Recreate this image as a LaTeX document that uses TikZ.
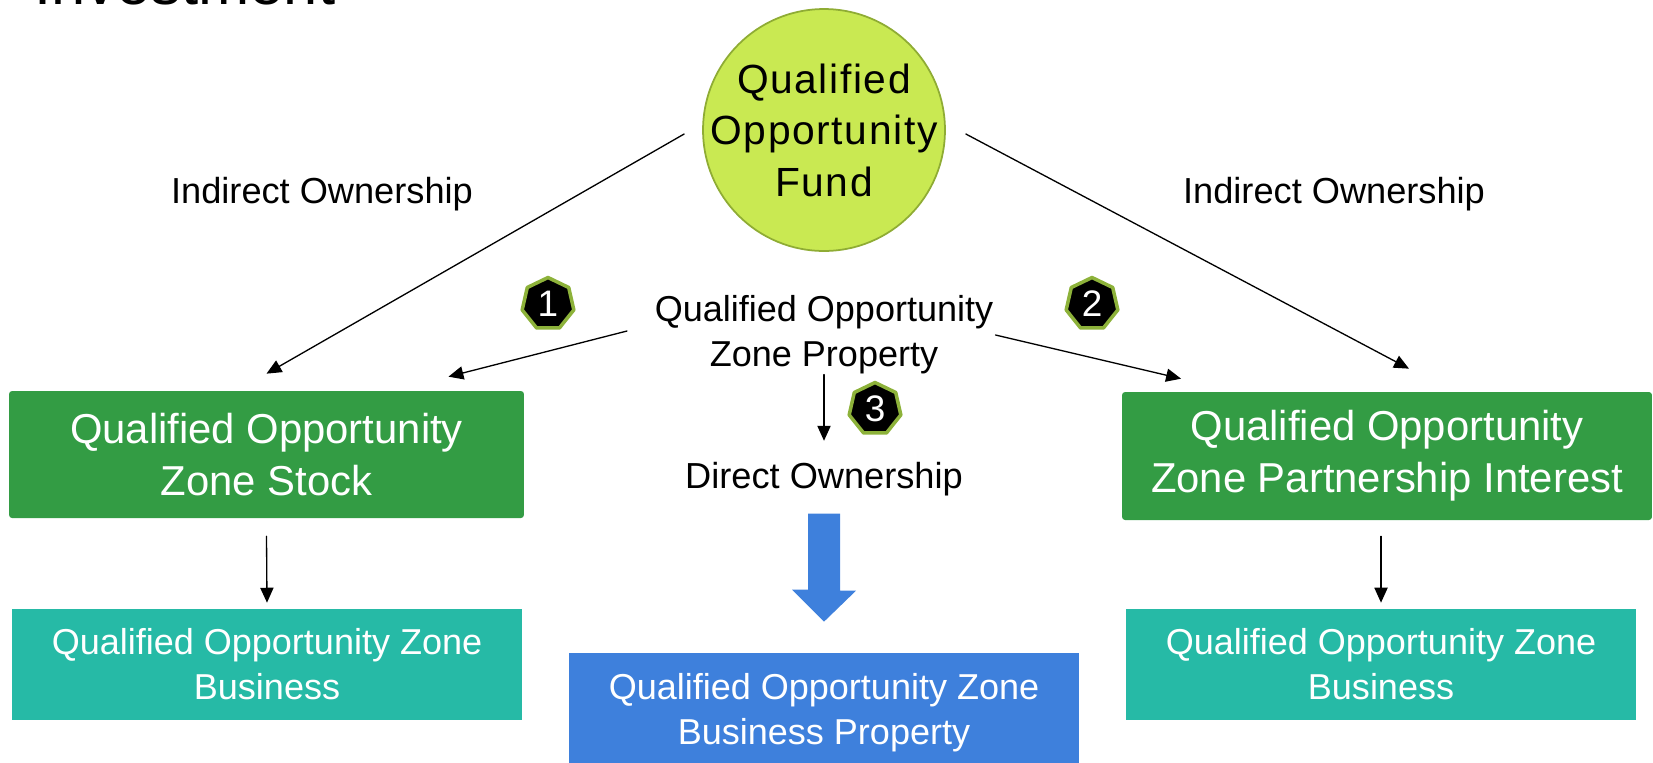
\documentclass[tikz,border=0pt]{standalone}
\usepackage{fontspec}
\setmainfont{Liberation Sans}
\usetikzlibrary{shapes.geometric,arrows.meta}

\definecolor{fundlime}{RGB}{201,233,82}
\definecolor{fundrim}{RGB}{143,172,52}
\definecolor{stockgreen}{RGB}{51,156,68}
\definecolor{bizteal}{RGB}{38,186,166}
\definecolor{propblue}{RGB}{62,128,220}
\definecolor{badgerim}{RGB}{141,178,58}

\begin{document}
\begin{tikzpicture}[line cap=round, line join=round, >={Triangle[length=8.5pt,width=7.5pt]}]

	% Hệ toạ độ theo điểm ảnh (gốc ở góc trên trái, trục y hướng xuống)
	\tikzset{
		px/.style={x=0.02cm, y=-0.02cm},
		conn/.style={->, line width=0.75pt},
		fundnode/.style={circle, draw=fundrim, line width=1pt, fill=fundlime,
			minimum size=4.84cm, inner sep=-0.4cm, align=center,
			font=\fontsize{23.2}{29.3}\selectfont\addfontfeature{LetterSpace=4}},
		lbl/.style={inner sep=0pt, align=center, font=\fontsize{20.6}{25.6}\selectfont},
		badge/.style={regular polygon, regular polygon sides=7, fill=black,
			draw=badgerim, line width=2pt, minimum size=1.06cm, inner sep=0pt,
			text=white, font=\fontsize{21}{21}\selectfont},
		bigbox/.style={fill=stockgreen, rounded corners=0.06cm, inner sep=0pt,
			text=white, align=center, font=\fontsize{23.8}{29.6}\selectfont},
		smallbox/.style={inner sep=0pt, text=white, align=center,
			minimum width=10.2cm, font=\fontsize{20.5}{25.6}\selectfont}
	}

	\begin{scope}[px]
		\useasboundingbox (0,0) rectangle (1653,762);

		% Tiêu đề (bị cắt ở mép trên)
		\node[anchor=base west, inner sep=0pt, font=\fontsize{35}{35}\selectfont] (title) at (34,4) {Investment};

		% ----------------------------------------------------
		% Quỹ ở trên cùng và các nhãn
		% ----------------------------------------------------
		\node[fundnode] (fund) at (824,130) {Qualified\\Opportunity\\Fund};

		\node[lbl] (indl) at (322,194) {Indirect Ownership};
		\node[lbl] (indr) at (1334,194) {Indirect Ownership};
		\node[lbl, font=\fontsize{20.5}{25.6}\selectfont] (qozp) at (824,335) {Qualified Opportunity\\Zone Property};
		\node[lbl] (direct) at (824,479) {Direct Ownership};

		% Các huy hiệu đánh số
		\node[badge] (b1) at (548,304) {1};
		\node[badge] (b2) at (1092,304) {2};
		\node[badge] (b3) at (875,409) {3};

		% ----------------------------------------------------
		% Các hộp
		% ----------------------------------------------------
		\node[bigbox, minimum width=10.3cm, minimum height=2.54cm] (stock) at (266.5,454.5) {Qualified Opportunity\\Zone Stock};
		\node[bigbox, minimum width=10.6cm, minimum height=2.56cm] (partner) at (1387,456) {Qualified Opportunity\\Zone Partnership Interest};

		\node[smallbox, fill=bizteal, minimum height=2.22cm] (bizl) at (267,664.5) {Qualified Opportunity Zone\\Business};
		\node[smallbox, fill=bizteal, minimum height=2.22cm] (bizr) at (1381,664.5) {Qualified Opportunity Zone\\Business};
		\node[smallbox, fill=propblue, minimum height=2.4cm] (prop) at (824,713) {Qualified Opportunity Zone\\Business Property};

		% ----------------------------------------------------
		% Mũi tên
		% ----------------------------------------------------
		\draw[conn] ([xshift=-0.36cm,yshift=-0.08cm]fund.west) -- ([yshift=0.34cm]stock.north);
		\draw[conn] ([xshift=0.4cm,yshift=-0.08cm]fund.east) -- ([xshift=0.44cm,yshift=0.46cm]partner.north);
		\draw[conn] ([xshift=-0.55cm,yshift=0.08cm]qozp.west) -- ([xshift=3.64cm,yshift=0.28cm]stock.north);
		\draw[conn] ([xshift=0.04cm]qozp.east) -- ([xshift=-4.12cm,yshift=0.26cm]partner.north);
		\draw[conn] (qozp.south) -- ([yshift=0.42cm]direct.north);

		\draw[conn] ([yshift=-0.36cm]stock.south) -- ([yshift=0.12cm]bizl.north);
		\coordinate (pdrop) at (bizr.north |- partner.south);
		\draw[conn] ([yshift=-0.32cm]pdrop) -- ([yshift=0.12cm]bizr.north);

		% Mũi tên khối màu xanh dương
		\fill[propblue] ([xshift=-0.32cm,yshift=-0.35cm]direct.south) -- ++(0.64cm,0) -- ++(0,-1.54cm)
			-- ++(0.32cm,0) -- ([yshift=0.62cm]prop.north) -- ++(-0.64cm,0.64cm) -- ++(0.32cm,0) -- cycle;
	\end{scope}
\end{tikzpicture}
\end{document}
